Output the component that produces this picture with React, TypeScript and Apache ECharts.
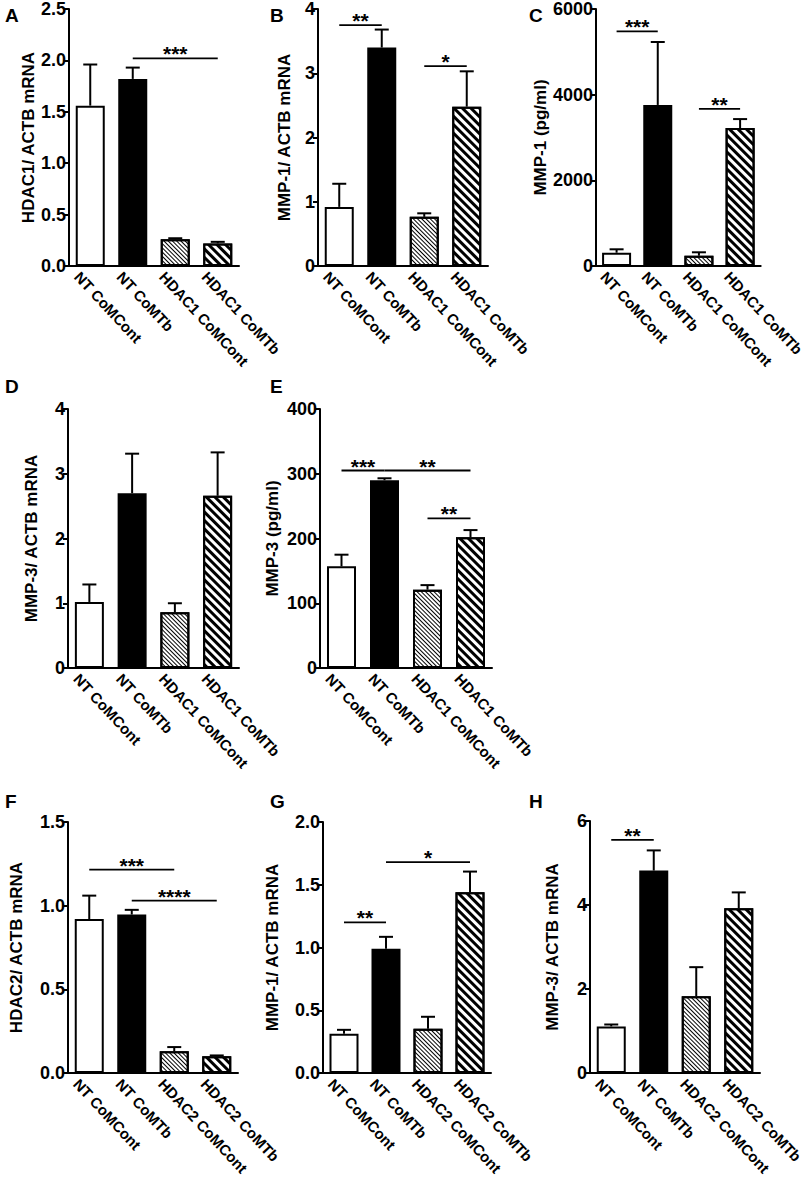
import React, { useEffect, useRef } from 'react';
import * as echarts from 'echarts';

// ---------- data ----------
const catsHDAC1 = ['NT CoMCont', 'NT CoMTb', 'HDAC1 CoMCont', 'HDAC1 CoMTb'];
const catsHDAC2 = ['NT CoMCont', 'NT CoMTb', 'HDAC2 CoMCont', 'HDAC2 CoMTb'];

const aMeans = [1.56, 1.82, 0.26, 0.22];
const aTops = [1.96, 1.93, 0.27, 0.235];
const bMeans = [0.92, 3.4, 0.765, 2.48];
const bTops = [1.28, 3.68, 0.82, 3.03];
const cMeans = [310, 3760, 240, 3220];
const cTops = [390, 5230, 320, 3430];
const dMeans = [1.02, 2.7, 0.86, 2.66];
const dTops = [1.29, 3.31, 1.0, 3.33];
const eMeans = [157, 290, 121, 202];
const eTops = [175, 293, 128, 213];
const fMeans = [0.92, 0.947, 0.13, 0.1];
const fTops = [1.06, 0.975, 0.155, 0.105];
const gMeans = [0.313, 0.99, 0.352, 1.44];
const gTops = [0.344, 1.085, 0.448, 1.605];
const hMeans = [1.11, 4.82, 1.83, 3.92];
const hTops = [1.155, 5.3, 2.52, 4.3];

// significance brackets: [fromIndex, toIndex, yValue]
const aSig = [[1, 3, 2.02]];
const aSigLabels = ['***'];
const bSig = [[0, 1, 3.75], [2, 3, 3.11]];
const bSigLabels = ['**', '*'];
const cSig = [[0, 1, 5476], [2, 3, 3670]];
const cSigLabels = ['***', '**'];
const dSig: number[][] = [];
const dSigLabels: string[] = [];
const eSig = [[0, 1, 305], [1, 3, 305], [2, 3, 231]];
const eSigLabels = ['***', '**', '**'];
const fSig = [[0, 2, 1.215], [1, 3, 1.03]];
const fSigLabels = ['***', '****'];
const gSig = [[0, 1, 1.2], [1, 3, 1.68]];
const gSigLabels = ['**', '*'];
const hSig = [[0, 1, 5.55]];
const hSigLabels = ['**'];

const panels = [
  { letter: 'A', title: 'HDAC1/ ACTB mRNA', cats: catsHDAC1, means: aMeans, tops: aTops, sig: aSig, sigLabels: aSigLabels, max: 2.5, interval: 0.5, dec: 1 },
  { letter: 'B', title: 'MMP-1/ ACTB mRNA', cats: catsHDAC1, means: bMeans, tops: bTops, sig: bSig, sigLabels: bSigLabels, max: 4, interval: 1, dec: 0 },
  { letter: 'C', title: 'MMP-1 (pg/ml)', cats: catsHDAC1, means: cMeans, tops: cTops, sig: cSig, sigLabels: cSigLabels, max: 6000, interval: 2000, dec: 0 },
  { letter: 'D', title: 'MMP-3/ ACTB mRNA', cats: catsHDAC1, means: dMeans, tops: dTops, sig: dSig, sigLabels: dSigLabels, max: 4, interval: 1, dec: 0 },
  { letter: 'E', title: 'MMP-3 (pg/ml)', cats: catsHDAC1, means: eMeans, tops: eTops, sig: eSig, sigLabels: eSigLabels, max: 400, interval: 100, dec: 0 },
  { letter: 'F', title: 'HDAC2/ ACTB mRNA', cats: catsHDAC2, means: fMeans, tops: fTops, sig: fSig, sigLabels: fSigLabels, max: 1.5, interval: 0.5, dec: 1 },
  { letter: 'G', title: 'MMP-1/ ACTB mRNA', cats: catsHDAC2, means: gMeans, tops: gTops, sig: gSig, sigLabels: gSigLabels, max: 2.0, interval: 0.5, dec: 1 },
  { letter: 'H', title: 'MMP-3/ ACTB mRNA', cats: catsHDAC2, means: hMeans, tops: hTops, sig: hSig, sigLabels: hSigLabels, max: 6, interval: 2, dec: 0 },
];

// ---------- layout (pixels) ----------
const layout = [
  { left: 69, top: 6, width: 170, height: 260, nameGap: 29, lx: 5, ly: 6 },
  { left: 318, top: 7, width: 170, height: 259, nameGap: 25, lx: 270, ly: 6 },
  { left: 596, top: 7, width: 168, height: 259, nameGap: 46, lx: 529, ly: 6 },
  { left: 68, top: 409, width: 171, height: 259, nameGap: 28, lx: 5, ly: 377 },
  { left: 320, top: 409, width: 172, height: 259, nameGap: 39, lx: 270, ly: 377 },
  { left: 68, top: 822, width: 170, height: 258, nameGap: 43, lx: 5, ly: 792 },
  { left: 323, top: 822, width: 168, height: 259, nameGap: 42, lx: 270, ly: 792 },
  { left: 590, top: 821, width: 170, height: 259, nameGap: 29, lx: 529, ly: 792 },
];

const FONT = '"Liberation Sans", Arial, Helvetica, sans-serif';

const fineHatch = {
  symbol: 'rect',
  symbolSize: 1,
  dashArrayX: [1, 0],
  dashArrayY: [1, 1.6],
  rotation: Math.PI / 4,
  color: '#000',
  backgroundColor: '#fff',
};
const coarseHatch = {
  symbol: 'rect',
  symbolSize: 1,
  dashArrayX: [1, 0],
  dashArrayY: [2.4, 2.2],
  rotation: Math.PI / 4,
  color: '#000',
  backgroundColor: '#fff',
};

const barStyles = [
  { color: '#fff', borderColor: '#000', borderWidth: 2 },
  { color: '#000', borderColor: '#000', borderWidth: 2 },
  { color: '#fff', borderColor: '#000', borderWidth: 2, decal: fineHatch },
  { color: '#fff', borderColor: '#000', borderWidth: 2, decal: coarseHatch },
];

function buildOption() {
  const grid: any[] = [];
  const xAxis: any[] = [];
  const yAxis: any[] = [];
  const series: any[] = [];
  const graphic: any[] = [];

  panels.forEach((p, k) => {
    const L = layout[k];
    grid.push({ left: L.left, top: L.top, width: L.width, height: L.height, containLabel: false });
    xAxis.push({
      type: 'category',
      gridIndex: k,
      data: p.cats,
      axisLine: { show: true, lineStyle: { color: '#000', width: 2 } },
      axisTick: { show: false },
      axisLabel: {
        interval: 0,
        rotate: -47,
        margin: 22,
        padding: [0, 0, 0, -19],
        fontSize: 15,
        fontWeight: 'bold',
        fontFamily: FONT,
        color: '#000',
      },
      splitLine: { show: false },
    });
    yAxis.push({
      type: 'value',
      gridIndex: k,
      min: 0,
      max: p.max,
      interval: p.interval,
      name: p.title,
      nameLocation: 'middle',
      nameRotate: 90,
      nameGap: L.nameGap,
      nameTextStyle: { fontSize: 17, fontWeight: 'bold', fontFamily: FONT, color: '#000' },
      axisLine: { show: true, lineStyle: { color: '#000', width: 2 } },
      axisTick: { show: true, length: 5, lineStyle: { color: '#000', width: 2 } },
      axisLabel: {
        fontSize: 18,
        fontWeight: 'bold',
        fontFamily: FONT,
        color: '#000',
        margin: 3,
        formatter: (v: number) => v.toFixed(p.dec),
      },
      splitLine: { show: false },
    });
    series.push({
      type: 'bar',
      xAxisIndex: k,
      yAxisIndex: k,
      barWidth: 29,
      data: p.means.map((v, i) => ({ value: v, itemStyle: barStyles[i] })),
      z: 2,
    });
    series.push({
      type: 'custom',
      xAxisIndex: k,
      yAxisIndex: k,
      data: p.means.map((m, i) => [i, m, p.tops[i]]),
      encode: { x: 0, y: [1, 2] },
      z: 3,
      renderItem: (params: any, api: any) => {
        const i = api.value(0);
        const m = api.value(1);
        const t = api.value(2);
        const p0 = api.coord([i, m]);
        const p1 = api.coord([i, t]);
        return {
          type: 'group',
          children: [
            { type: 'line', shape: { x1: p0[0], y1: p0[1], x2: p1[0], y2: p1[1] }, style: { stroke: '#000', lineWidth: 2 } },
            { type: 'line', shape: { x1: p1[0] - 7, y1: p1[1], x2: p1[0] + 7, y2: p1[1] }, style: { stroke: '#000', lineWidth: 2 } },
          ],
        };
      },
    });
    if (p.sig.length) {
      series.push({
        type: 'custom',
        xAxisIndex: k,
        yAxisIndex: k,
        data: p.sig,
        encode: { x: [0, 1], y: 2 },
        z: 4,
        renderItem: (params: any, api: any) => {
          const a = api.coord([api.value(0), api.value(2)]);
          const b = api.coord([api.value(1), api.value(2)]);
          const label = p.sigLabels[params.dataIndex];
          return {
            type: 'group',
            children: [
              { type: 'line', shape: { x1: a[0], y1: a[1], x2: b[0], y2: b[1] }, style: { stroke: '#000', lineWidth: 1.8 } },
              {
                type: 'text',
                x: (a[0] + b[0]) / 2,
                y: a[1] + 6,
                style: {
                  text: label,
                  fontSize: 21,
                  fontWeight: 'bold',
                  fontFamily: FONT,
                  fill: '#000',
                  align: 'center',
                  verticalAlign: 'bottom',
                },
              },
            ],
          };
        },
      });
    }
    graphic.push({
      type: 'text',
      left: L.lx,
      top: L.ly,
      style: { text: p.letter, fontSize: 19, fontWeight: 'bold', fontFamily: FONT, fill: '#000' },
    });
  });

  return {
    animation: false,
    backgroundColor: '#fff',
    grid,
    xAxis,
    yAxis,
    series,
    graphic,
  };
}

export default function App() {
  const ref = useRef<HTMLDivElement>(null);
  useEffect(() => {
    if (!ref.current) return;
    const chart = echarts.init(ref.current, undefined, { renderer: 'svg' });
    chart.setOption(buildOption() as any);
    return () => {
      chart.dispose();
    };
  }, []);
  return (
    <div
      ref={ref}
      style={{ position: 'absolute', left: 0, top: 0, width: 807, height: 1178, background: '#fff' }}
    />
  );
}
